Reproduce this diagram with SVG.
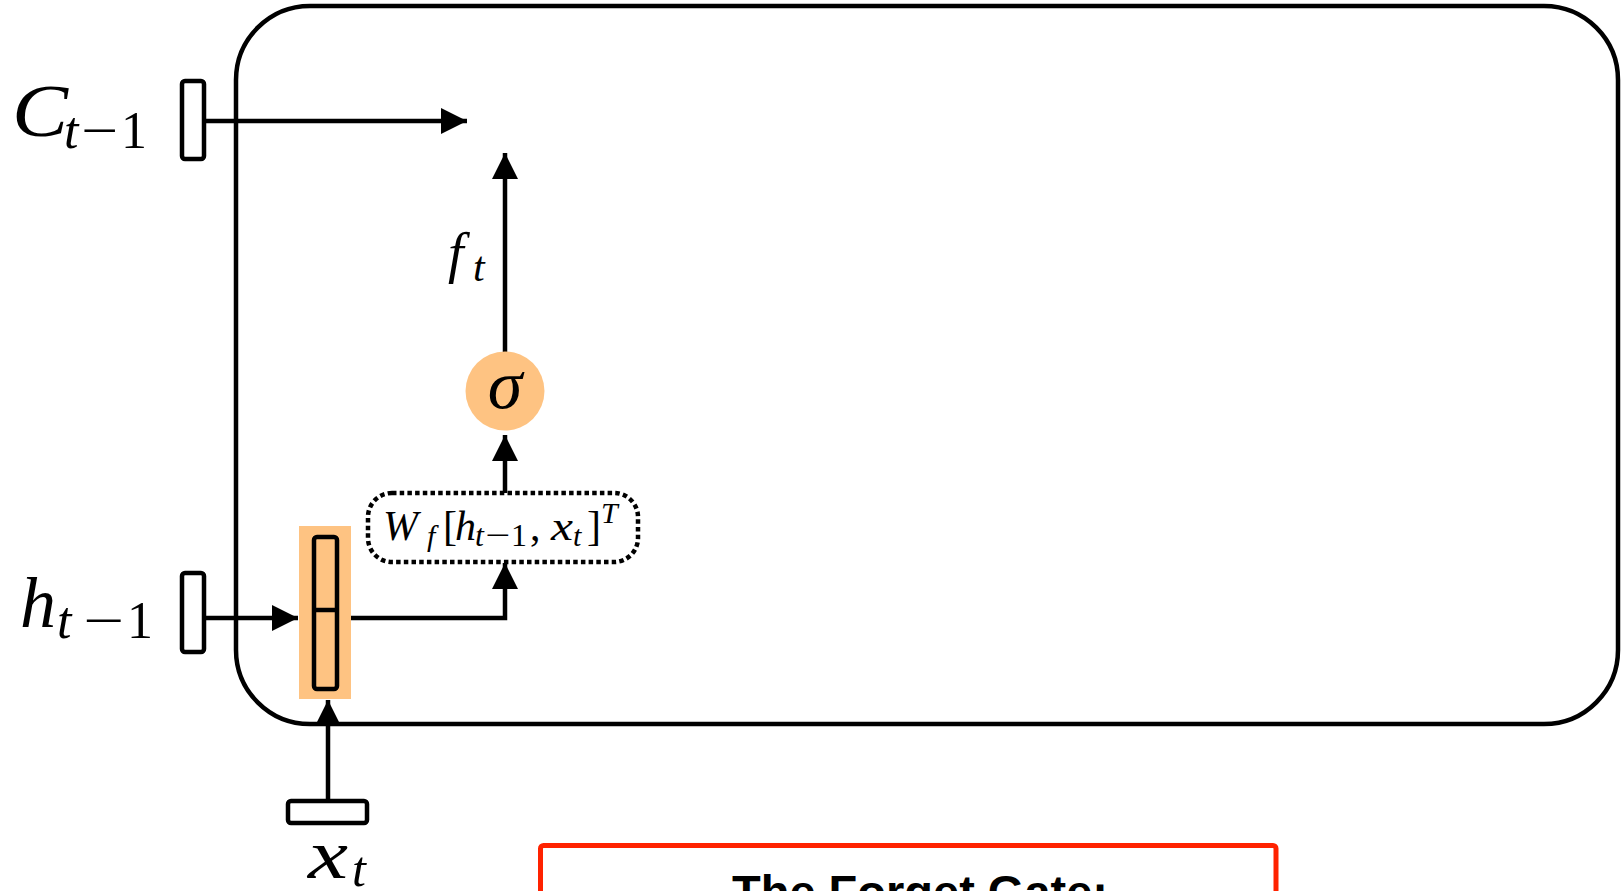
<svg xmlns="http://www.w3.org/2000/svg" width="1622" height="891" viewBox="0 0 1622 891">
<defs>
<style>
.ln{fill:none;stroke:#000;stroke-width:4.5;}
.box{fill:#fff;stroke:#000;stroke-width:4.5;}
.m{font-family:"Liberation Serif","DejaVu Serif",serif;font-style:italic;fill:#000;}
.n{font-family:"Liberation Serif","DejaVu Serif",serif;font-style:normal;fill:#000;}
.org{fill:#FEC382;}
</style>
<marker id="ah" markerUnits="userSpaceOnUse" markerWidth="26" markerHeight="26" viewBox="0 0 24 24" refX="24" refY="12" orient="auto">
<path d="M0,0 L24,12 L0,24 Z" fill="#000"/>
</marker>
</defs>
<rect width="1622" height="891" fill="#fff"/>

<g id="cell">
<rect x="236" y="6" width="1382" height="718" rx="74" ry="74" class="ln"/>
</g>

<g id="connectors">
<line x1="204" y1="121" x2="467" y2="121" class="ln" marker-end="url(#ah)"/>
<line x1="204" y1="618" x2="298" y2="618" class="ln" marker-end="url(#ah)"/>
<line x1="328" y1="800" x2="328" y2="700" class="ln" marker-end="url(#ah)"/>
<polyline points="351,618 505,618 505,563" class="ln" marker-end="url(#ah)"/>
<line x1="505" y1="493" x2="505" y2="435" class="ln" marker-end="url(#ah)"/>
<line x1="505" y1="352" x2="505" y2="153" class="ln" marker-end="url(#ah)"/>
</g>

<g id="c_prev">
<rect x="182" y="81" width="22" height="78" rx="3" class="box"/>
<text class="m" x="12" y="136" font-size="74" textLength="56" lengthAdjust="spacingAndGlyphs">C</text>
<text class="m" x="64" y="148" font-size="52">t</text>
<text class="n" x="81" y="148" font-size="52" textLength="37" lengthAdjust="spacingAndGlyphs">−</text>
<text class="n" x="121" y="148" font-size="52">1</text>
</g>

<g id="h_prev">
<rect x="182" y="573" width="22" height="79" rx="3" class="box"/>
<text class="m" x="20" y="627" font-size="72">h</text>
<text class="m" x="57" y="638" font-size="52">t</text>
<text class="n" x="83" y="638" font-size="52" textLength="41" lengthAdjust="spacingAndGlyphs">−</text>
<text class="n" x="127" y="638" font-size="52">1</text>
</g>

<g id="x_in">
<rect x="288" y="801" width="79" height="22" rx="3" class="box"/>
<text class="m" x="308" y="878" font-size="70" textLength="40" lengthAdjust="spacingAndGlyphs">x</text>
<text class="m" x="352" y="886" font-size="50">t</text>
</g>

<g id="concat">
<rect x="299" y="526" width="52" height="173" class="org"/>
<rect x="314" y="537" width="23" height="152" rx="3" class="ln"/>
<line x1="314" y1="610" x2="337" y2="610" class="ln"/>
</g>

<g id="linear">
<rect x="368" y="493" width="270" height="69" rx="24" ry="24" fill="#fff" stroke="#000" stroke-width="4.5" stroke-dasharray="4.5 3.2"/>
<text class="m" x="383" y="540" font-size="42">W</text>
<text class="m" x="427" y="546" font-size="30">f</text>
<text class="n" x="443" y="540" font-size="42">[</text>
<text class="m" x="455" y="540" font-size="42">h</text>
<text class="m" x="475" y="546" font-size="32">t</text>
<text class="n" x="485" y="546" font-size="32" textLength="25" lengthAdjust="spacingAndGlyphs">−</text>
<text class="n" x="511" y="546" font-size="32">1</text>
<text class="n" x="530" y="540" font-size="42">,</text>
<text class="m" x="551" y="540" font-size="42" textLength="22" lengthAdjust="spacingAndGlyphs">x</text>
<text class="m" x="573" y="546" font-size="30">t</text>
<text class="n" x="587" y="540" font-size="42">]</text>
<text class="m" x="601" y="523" font-size="30">T</text>
</g>

<g id="sigma">
<circle cx="505" cy="391" r="39.5" class="org"/>
<text class="m" x="505" y="408" font-size="70" text-anchor="middle">σ</text>
</g>

<g id="ft_label">
<text class="m" x="448" y="272" font-size="56">f</text>
<text class="m" x="473" y="281" font-size="42">t</text>
</g>

<g id="caption">
<rect x="540.5" y="845.5" width="735.5" height="80" rx="3" fill="#fff" stroke="#FF2200" stroke-width="5"/>
<text x="920" y="908" font-family="'Liberation Sans',Arial,sans-serif" font-weight="bold" font-size="47" text-anchor="middle" fill="#000">The Forget Gate:</text>
</g>
</svg>
